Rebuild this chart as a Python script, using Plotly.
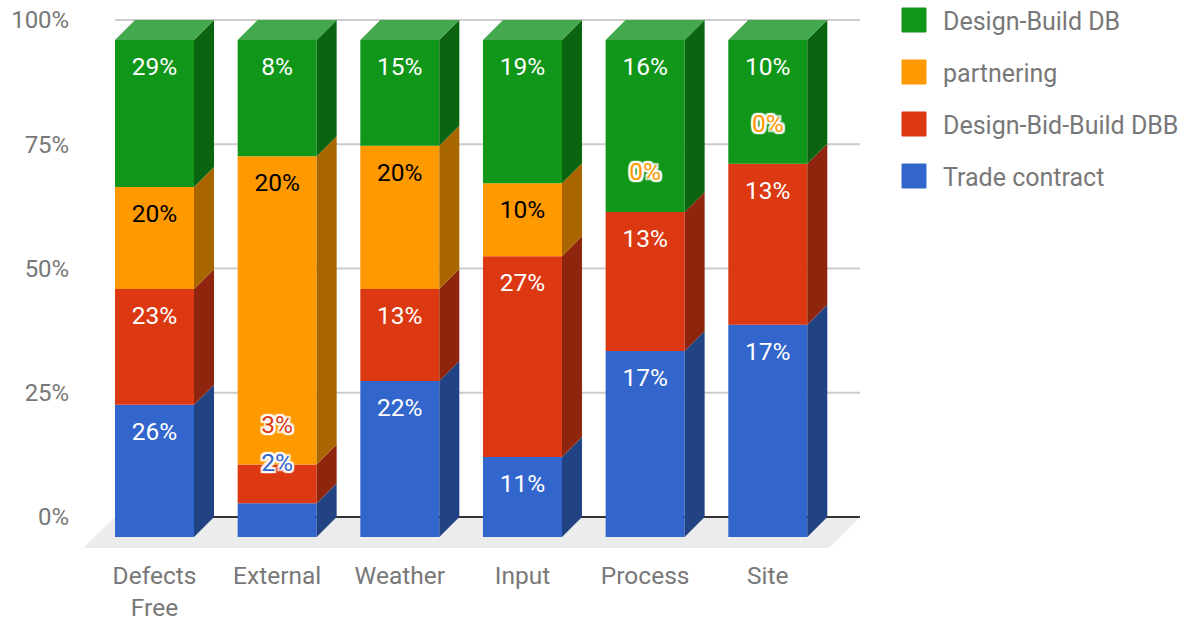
import plotly.graph_objects as go

categories = ["Defects<br>Free", "External", "Weather", "Input", "Process", "Site"]
series_names = ["Trade contract", "Design-Bid-Build DBB", "partnering", "Design-Build DB"]

# Share of each stack (%)
trade_share = [26.6, 6.8, 31.4, 16.1, 37.4, 42.7]
dbb_share = [23.3, 7.8, 18.5, 40.4, 28.0, 32.4]
partnering_share = [20.5, 62.0, 28.8, 14.7, 0.0, 0.0]
db_share = [29.6, 23.4, 21.3, 28.8, 34.6, 24.9]

# Printed data labels
trade_labels = [26, 2, 22, 11, 17, 17]
dbb_labels = [23, 3, 13, 27, 13, 13]
partnering_labels = [20, 20, 20, 10, 0, 0]
db_labels = [29, 8, 15, 19, 16, 10]

shares = [trade_share, dbb_share, partnering_share, db_share]
labels = [trade_labels, dbb_labels, partnering_labels, db_labels]
front_colors = ["#3366cc", "#dc3912", "#ff9900", "#109618"]
side_colors = ["#214384", "#8e250c", "#a86500", "#0b6410"]
label_colors = ["#ffffff", "#ffffff", "#000000", "#ffffff"]
top_color = "#44a94c"
y_ticks = [0, 25, 50, 75, 100]
y_tick_text = ["0%", "25%", "50%", "75%", "100%"]

FONT = "Roboto"
GREY = "#787878"
W, H = 1187, 620
PL, PR, PT, PB = 83, 860, 0, 548      # plot box in window pixels
Y0_PX, Y100_PX = 517, 20
X0_PX, STEP_PX = 154.5, 122.66
PX_Y = (Y0_PX - Y100_PX) / 100        # pixels per percent
DEPTH = 20                            # 3-D offset in pixels
dx = DEPTH / STEP_PX
dy = DEPTH / PX_Y
bar_w = 79 / STEP_PX
xr = [(PL - X0_PX) / STEP_PX, (PR - X0_PX) / STEP_PX]
yr = [(Y0_PX - PB) / PX_Y, (Y0_PX - PT) / PX_Y]
xs = list(range(len(categories)))
SHIFT_Y = 29 / PX_Y
ABOVE_Y = 38 / PX_Y

fig = go.Figure()
cum = [0.0] * len(xs)
text_groups = {}
for name, vals, labs, fc, sc, lc in zip(series_names, shares, labels, front_colors, side_colors, label_colors):
    bases = [c - dy for c in cum]
    fig.add_trace(go.Bar(x=xs, y=vals, base=bases, width=bar_w, name=name,
                         marker=dict(color=fc, line=dict(width=0)), showlegend=False,
                         hovertemplate=name + ": %{y:.1f}%<extra></extra>"))
    sx, sy = [], []
    for i, v in enumerate(vals):
        r = xs[i] + bar_w / 2
        b, t = bases[i], bases[i] + v
        sx += [r, r + dx, r + dx, r, r, None]
        sy += [b, b + dy, t + dy, t, b, None]
        top = t
        if v < 8:
            ty = top + ABOVE_Y
            key = ("halo", fc)
        else:
            ty = top - SHIFT_Y
            key = ("plain", lc)
        text_groups.setdefault(key, []).append((xs[i], ty, f"{labs[i]}%"))
    fig.add_trace(go.Scatter(x=sx, y=sy, mode="lines", fill="toself", fillcolor=sc,
                             line=dict(width=0, color=sc), hoverinfo="skip", showlegend=False))
    cum = [c + v for c, v in zip(cum, vals)]

# top faces
tx, ty = [], []
for i in xs:
    l, r = xs[i] - bar_w / 2, xs[i] + bar_w / 2
    t = cum[i] - dy
    tx += [l, r, r + dx, l + dx, l, None]
    ty += [t, t, t + dy, t + dy, t, None]
fig.add_trace(go.Scatter(x=tx, y=ty, mode="lines", fill="toself", fillcolor=top_color,
                         line=dict(width=0, color=top_color), hoverinfo="skip", showlegend=False))

HALO = ", ".join(f"#fff {a}px {b}px 1px" for a, b in
                 [(2, 0), (-2, 0), (0, 2), (0, -2), (2, 2), (-2, 2), (2, -2), (-2, -2)])
for (kind, color), items in text_groups.items():
    font = dict(family=FONT, size=24.5, color=color)
    if kind == "halo":
        font["shadow"] = HALO
    fig.add_trace(go.Scatter(x=[p[0] for p in items], y=[p[1] for p in items],
                             text=[p[2] for p in items], mode="text", textposition="middle center",
                             textfont=font, hoverinfo="skip", showlegend=False))

shapes = []
back_left = xs[0] - bar_w / 2
floor_dx = 31 / STEP_PX
floor_dy = 31 / PX_Y
shapes.append(dict(type="path", xref="x", yref="y", layer="below", line=dict(width=0),
                   fillcolor="#ececec",
                   path=f"M {back_left} 0 L {xr[1]} 0 L {xr[1]-floor_dx} {-floor_dy} L {xr[0]} {-floor_dy} Z"))
for t in y_ticks:
    shapes.append(dict(type="line", xref="x", yref="y", layer="below",
                       x0=back_left, x1=xr[1], y0=t, y1=t,
                       line=dict(color="#333333" if t == 0 else "#cccccc", width=2)))

def px(x):
    return (x - PL) / (PR - PL)

def py(y):
    return (PB - y) / (PB - PT)

annotations = []
for name, color, cy in zip(series_names, front_colors, [176, 124, 72, 20]):
    shapes.append(dict(type="rect", xref="paper", yref="paper", layer="above",
                       x0=px(902), x1=px(926), y0=py(cy + 12), y1=py(cy - 12),
                       fillcolor=color, line=dict(color=color, width=1)))
    annotations.append(dict(xref="paper", yref="paper", x=px(941), y=py(cy + 1), text=name, showarrow=False,
                            xanchor="left", yanchor="middle", align="left",
                            font=dict(family=FONT, size=25, color=GREY)))

fig.update_layout(
    width=W, height=H, autosize=False, barmode="overlay", showlegend=False,
    margin=dict(l=PL, r=W - PR, t=PT, b=H - PB, pad=0, autoexpand=False),
    paper_bgcolor="white", plot_bgcolor="white",
    font=dict(family=FONT, size=24, color=GREY),
    shapes=shapes, annotations=annotations,
    xaxis=dict(range=xr, tickmode="array", tickvals=xs, ticktext=categories, showgrid=False,
               zeroline=False, showline=False, ticks="outside", ticklen=6, tickcolor="rgba(0,0,0,0)",
               automargin=False, tickfont=dict(family=FONT, size=24.5, color=GREY)),
    yaxis=dict(range=yr, tickmode="array", tickvals=y_ticks, ticktext=y_tick_text, showgrid=False,
               zeroline=False, showline=False, ticks="outside", ticklen=8, tickcolor="rgba(0,0,0,0)",
               automargin=False, tickfont=dict(family=FONT, size=24, color=GREY)),
)

fig.write_html("out.html", post_script="document.body.style.margin='0';",
               config={"displayModeBar": False})
